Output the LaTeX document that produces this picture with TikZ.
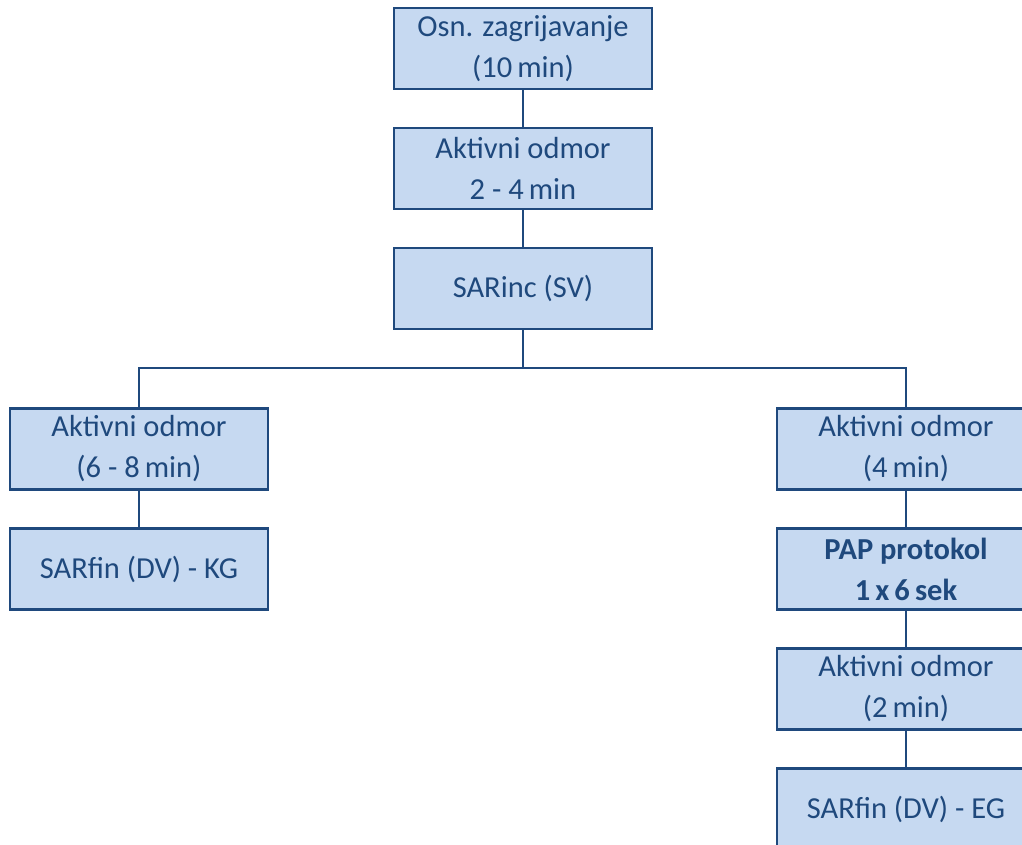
\documentclass[tikz,border=0pt]{standalone}
\usepackage{fontspec}
\setmainfont{Carlito}
\usetikzlibrary{positioning,calc}
\definecolor{boxfill}{RGB}{198,217,241}
\definecolor{boxline}{RGB}{31,73,125}
\begin{document}
\begin{tikzpicture}[
    x=1pt, y=-1pt,
    box/.style={rectangle, draw=boxline, fill=boxfill, line width=2.6pt, minimum width=258pt, minimum height=81pt, text centered, align=center, text=boxline, font=\fontsize{30.5}{41}\selectfont},
    link/.style={draw=boxline, line width=2.2pt}
]
\clip (0,0) rectangle (1022,845);

% Warm-up and first measurement
\node[box] (warmup) at (523,48.5) {Osn. zagrijavanje\\(10\,min)};
\node[box] (rest1) at (523,168.5) {Aktivni odmor\\2 - 4\,min};
\node[box] (sarinc) at (523,288.5) {SARinc (SV)};

\coordinate (split) at (523,368);

% Control group (left)
\node[box] (restKG) at (139,449) {Aktivni odmor\\(6 - 8\,min)};
\node[box] (sarKG) at (139,569) {SARfin (DV) - KG};

% Experimental group (right)
\node[box] (restEG) at (906,449) {Aktivni odmor\\(4\,min)};
\node[box] (pap) at (906,569) {\textbf{PAP protokol}\\\textbf{1\,x\,6\,sek}};
\node[box] (restEG2) at (906,689) {Aktivni odmor\\(2\,min)};
\node[box] (sarEG) at (906,809) {SARfin (DV) - EG};

% Connectors
\draw[link] (warmup) -- (rest1);
\draw[link] (rest1) -- (sarinc);
\draw[link] (sarinc) -- (split);
\draw[link] (split) -| (restKG);
\draw[link] (split) -| (restEG);
\draw[link] (restKG) -- (sarKG);
\draw[link] (restEG) -- (pap);
\draw[link] (pap) -- (restEG2);
\draw[link] (restEG2) -- (sarEG);

\end{tikzpicture}
\end{document}
